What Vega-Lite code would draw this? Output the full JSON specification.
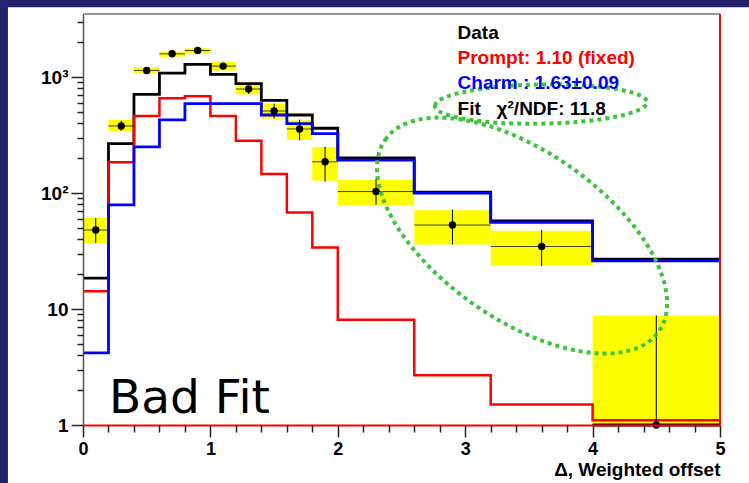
{
  "$schema": "https://vega.github.io/schema/vega-lite/v6.json",
  "width": 637,
  "height": 411,
  "autosize": {"type": "none"},
  "padding": {"left": 83, "top": 14, "right": 29, "bottom": 58},
  "background": "#23226b",
  "config": {
    "view": {"stroke": null},
    "font": "Liberation Sans"
  },
  "datasets": {
    "hist": [
      {"series": "Fit", "x": 0.0, "y": 18.5}, {"series": "Fit", "x": 0.2, "y": 267}, {"series": "Fit", "x": 0.4, "y": 710},
      {"series": "Fit", "x": 0.6, "y": 1082}, {"series": "Fit", "x": 0.8, "y": 1285}, {"series": "Fit", "x": 1.0, "y": 1054},
      {"series": "Fit", "x": 1.2, "y": 877}, {"series": "Fit", "x": 1.4, "y": 630}, {"series": "Fit", "x": 1.6, "y": 471},
      {"series": "Fit", "x": 1.8, "y": 362}, {"series": "Fit", "x": 2.0, "y": 201}, {"series": "Fit", "x": 2.6, "y": 102},
      {"series": "Fit", "x": 3.2, "y": 57.5}, {"series": "Fit", "x": 4.0, "y": 26.9}, {"series": "Fit", "x": 5.0, "y": 26.9},
      {"series": "Prompt", "x": 0.0, "y": 14.2}, {"series": "Prompt", "x": 0.2, "y": 184}, {"series": "Prompt", "x": 0.4, "y": 462},
      {"series": "Prompt", "x": 0.6, "y": 656}, {"series": "Prompt", "x": 0.8, "y": 682}, {"series": "Prompt", "x": 1.0, "y": 462},
      {"series": "Prompt", "x": 1.2, "y": 282}, {"series": "Prompt", "x": 1.4, "y": 146}, {"series": "Prompt", "x": 1.6, "y": 68},
      {"series": "Prompt", "x": 1.8, "y": 34}, {"series": "Prompt", "x": 2.0, "y": 8.1}, {"series": "Prompt", "x": 2.6, "y": 2.69},
      {"series": "Prompt", "x": 3.2, "y": 1.5}, {"series": "Prompt", "x": 4.0, "y": 1.1}, {"series": "Prompt", "x": 5.0, "y": 1.1},
      {"series": "Charm", "x": 0.0, "y": 4.19}, {"series": "Charm", "x": 0.2, "y": 79}, {"series": "Charm", "x": 0.4, "y": 250},
      {"series": "Charm", "x": 0.6, "y": 427}, {"series": "Charm", "x": 0.8, "y": 590}, {"series": "Charm", "x": 1.0, "y": 590},
      {"series": "Charm", "x": 1.2, "y": 590}, {"series": "Charm", "x": 1.4, "y": 471}, {"series": "Charm", "x": 1.6, "y": 397},
      {"series": "Charm", "x": 1.8, "y": 326}, {"series": "Charm", "x": 2.0, "y": 192}, {"series": "Charm", "x": 2.6, "y": 100},
      {"series": "Charm", "x": 3.2, "y": 56}, {"series": "Charm", "x": 4.0, "y": 26}, {"series": "Charm", "x": 5.0, "y": 26}
    ],
    "points": [
      {"x": 0.1, "xlo": 0.0, "xhi": 0.2, "y": 48, "sysLo": 37, "sysHi": 61, "errLo": 37, "errHi": 61},
      {"x": 0.3, "xlo": 0.2, "xhi": 0.4, "y": 379, "sysLo": 343, "sysHi": 427, "errLo": 345, "errHi": 420},
      {"x": 0.5, "xlo": 0.4, "xhi": 0.6, "y": 1141, "sysLo": 1069, "sysHi": 1219, "errLo": 1090, "errHi": 1195},
      {"x": 0.7, "xlo": 0.6, "xhi": 0.8, "y": 1588, "sysLo": 1500, "sysHi": 1660, "errLo": 1520, "errHi": 1650},
      {"x": 0.9, "xlo": 0.8, "xhi": 1.0, "y": 1695, "sysLo": 1600, "sysHi": 1770, "errLo": 1620, "errHi": 1760},
      {"x": 1.1, "xlo": 1.0, "xhi": 1.2, "y": 1244, "sysLo": 1141, "sysHi": 1355, "errLo": 1160, "errHi": 1330},
      {"x": 1.3, "xlo": 1.2, "xhi": 1.4, "y": 789, "sysLo": 710, "sysHi": 865, "errLo": 715, "errHi": 860},
      {"x": 1.5, "xlo": 1.4, "xhi": 1.6, "y": 510, "sysLo": 438, "sysHi": 594, "errLo": 440, "errHi": 590},
      {"x": 1.7, "xlo": 1.6, "xhi": 1.8, "y": 357, "sysLo": 287, "sysHi": 424, "errLo": 285, "errHi": 430},
      {"x": 1.9, "xlo": 1.8, "xhi": 2.0, "y": 186, "sysLo": 128, "sysHi": 250, "errLo": 125, "errHi": 250},
      {"x": 2.3, "xlo": 2.0, "xhi": 2.6, "y": 103, "sysLo": 79, "sysHi": 130, "errLo": 79, "errHi": 132},
      {"x": 2.9, "xlo": 2.6, "xhi": 3.2, "y": 53, "sysLo": 36, "sysHi": 71, "errLo": 36, "errHi": 72},
      {"x": 3.6, "xlo": 3.2, "xhi": 4.0, "y": 34.6, "sysLo": 23.7, "sysHi": 47.4, "errLo": 23.5, "errHi": 48},
      {"x": 4.5, "xlo": 4.0, "xhi": 5.0, "y": 1, "sysLo": 1, "sysHi": 8.8, "errLo": 1, "errHi": 8.8}
    ]
  },
  "resolve": {"axis": {"x": "independent", "y": "independent"}},
  "layer": [
    {
      "layer": [
        {
          "data": {"values": [{}]},
          "mark": {"type": "rect", "fill": "#ffffff", "clip": false},
          "encoding": {
            "x": {"datum": -0.589, "type": "quantitative", "scale": {"domain": [0, 5], "nice": false, "zero": false},
              "axis": {
                "orient": "bottom",
                "values": [0, 1, 2, 3, 4, 5],
                "format": "d",
                "labelFlush": false,
                "labelOverlap": false,
                "labelFont": "Liberation Sans",
                "labelFontWeight": "bold",
                "labelFontSize": 18,
                "labelColor": "#000000",
                "labelPadding": 3,
                "ticks": true,
                "tickSize": 12,
                "tickColor": "#222222",
                "tickWidth": 1.5,
                "domainColor": "#ff0000",
                "domainWidth": 2,
                "grid": false,
                "zindex": 1,
                "title": "Δ, Weighted offset",
                "titleFont": "Liberation Sans",
                "titleFontWeight": "bold",
                "titleFontSize": 19,
                "titleColor": "#000000",
                "titleAnchor": "end",
                "titleAlign": "right",
                "titlePadding": 2
              }},
            "x2": {"datum": 5.25},
            "y": {"datum": 4010, "type": "quantitative", "scale": {"type": "log", "domain": [1, 3500], "nice": false},
              "axis": {
                "orient": "left",
                "values": [1, 10, 100, 1000],
                "labelExpr": "datum.value == 1000 ? '10³' : datum.value == 100 ? '10²' : datum.value == 10 ? '10' : '1'",
                "labelOverlap": false,
                "labelFlush": false,
                "labelFont": "Liberation Sans",
                "labelFontWeight": "bold",
                "labelFontSize": 19,
                "labelColor": "#000000",
                "labelPadding": 3,
                "ticks": true,
                "tickSize": 12,
                "tickColor": "#222222",
                "tickWidth": 1.5,
                "domainColor": "#555555",
                "domainWidth": 1.5,
                "grid": false,
                "zindex": 1,
                "title": null
              }},
            "y2": {"datum": 0.3}
          }
        },
        {
          "data": {"values": [{}]},
          "mark": {"type": "rule", "color": "#777777", "strokeWidth": 1.5, "clip": false},
          "encoding": {"x": {"datum": 0}, "x2": {"datum": 5}, "y": {"datum": 3500}}
        },
        {
          "data": {"name": "points"},
          "mark": {"type": "rect", "fill": "#ffff00", "clip": false},
          "encoding": {"x": {"field": "xlo", "type": "quantitative"}, "x2": {"field": "xhi"}, "y": {"field": "sysLo", "type": "quantitative"}, "y2": {"field": "sysHi"}}
        },
        {
          "data": {"name": "hist"},
          "transform": [{"filter": "datum.series === 'Fit'"}],
          "mark": {"type": "line", "interpolate": "step-after", "color": "#000000", "strokeWidth": 2.8, "clip": false},
          "encoding": {"x": {"field": "x", "type": "quantitative"}, "y": {"field": "y", "type": "quantitative"}}
        },
        {
          "data": {"name": "hist"},
          "transform": [{"filter": "datum.series === 'Prompt'"}],
          "mark": {"type": "line", "interpolate": "step-after", "color": "#ff0000", "strokeWidth": 2.5, "clip": false},
          "encoding": {"x": {"field": "x", "type": "quantitative"}, "y": {"field": "y", "type": "quantitative"}}
        },
        {
          "data": {"name": "hist"},
          "transform": [{"filter": "datum.series === 'Charm'"}],
          "mark": {"type": "line", "interpolate": "step-after", "color": "#0000ff", "strokeWidth": 2.8, "clip": false},
          "encoding": {"x": {"field": "x", "type": "quantitative"}, "y": {"field": "y", "type": "quantitative"}}
        },
        {
          "data": {"name": "points"},
          "mark": {"type": "rule", "color": "#000000", "strokeWidth": 1, "opacity": 0.75, "clip": false},
          "encoding": {"x": {"field": "xlo", "type": "quantitative"}, "x2": {"field": "xhi"}, "y": {"field": "y", "type": "quantitative"}}
        },
        {
          "data": {"name": "points"},
          "mark": {"type": "rule", "color": "#000000", "strokeWidth": 1, "clip": false},
          "encoding": {"x": {"field": "x", "type": "quantitative"}, "y": {"field": "errLo", "type": "quantitative"}, "y2": {"field": "errHi"}}
        },
        {
          "data": {"name": "points"},
          "mark": {"type": "point", "filled": true, "shape": "circle", "color": "#000000", "size": 55, "opacity": 1, "clip": false},
          "encoding": {"x": {"field": "x", "type": "quantitative"}, "y": {"field": "y", "type": "quantitative"}}
        },
        {
          "data": {"values": [{}]},
          "mark": {"type": "rule", "color": "#ff0000", "strokeWidth": 2, "clip": false},
          "encoding": {"x": {"datum": 5}, "y": {"datum": 1}, "y2": {"datum": 3500}}
        },
        {
          "data": {"values": [{}]},
          "mark": {"type": "rule", "color": "#000000", "strokeWidth": 3, "clip": false},
          "encoding": {"x": {"datum": 4}, "x2": {"datum": 5}, "y": {"datum": 1}}
        },
        {
          "data": {"values": [{}]},
          "mark": {"type": "point", "shape": "M -1 0 A 1 0.503 0 1 1 1 0 A 1 0.503 0 1 1 -1 0 Z", "filled": false, "stroke": "#3cc43c", "strokeWidth": 4, "strokeDash": [4, 4], "size": 111556, "angle": 35, "opacity": 1, "clip": false},
          "encoding": {"x": {"datum": 3.446}, "y": {"datum": 43}}
        },
        {
          "data": {"values": [{}]},
          "mark": {"type": "point", "shape": "M -1 0 A 1 0.185 0 1 1 1 0 A 1 0.185 0 1 1 -1 0 Z", "filled": false, "stroke": "#3cc43c", "strokeWidth": 4, "strokeDash": [4, 4], "size": 44944, "angle": -1, "opacity": 1, "clip": false},
          "encoding": {"x": {"datum": 3.595}, "y": {"datum": 585}}
        },
        {
          "data": {"values": [{}]},
          "mark": {"type": "text", "text": "Data", "align": "left", "baseline": "alphabetic", "font": "Liberation Sans", "fontWeight": "bold", "fontSize": 19, "color": "#000000", "clip": false},
          "encoding": {"x": {"datum": 2.94}, "y": {"datum": 2113}}
        },
        {
          "data": {"values": [{}]},
          "mark": {"type": "text", "text": "Prompt: 1.10 (fixed)", "align": "left", "baseline": "alphabetic", "font": "Liberation Sans", "fontWeight": "bold", "fontSize": 19, "color": "#ff0000", "clip": false},
          "encoding": {"x": {"datum": 2.94}, "y": {"datum": 1286}}
        },
        {
          "data": {"values": [{}]},
          "mark": {"type": "text", "text": "Charm : 1.63±0.09", "align": "left", "baseline": "alphabetic", "font": "Liberation Sans", "fontWeight": "bold", "fontSize": 19, "color": "#0000ff", "clip": false},
          "encoding": {"x": {"datum": 2.94}, "y": {"datum": 784}}
        },
        {
          "data": {"values": [{}]},
          "mark": {"type": "text", "text": "Fit\u00a0\u00a0\u00a0χ²/NDF: 11.8", "align": "left", "baseline": "alphabetic", "font": "Liberation Sans", "fontWeight": "bold", "fontSize": 19, "color": "#000000", "clip": false},
          "encoding": {"x": {"datum": 2.94}, "y": {"datum": 470}}
        },
        {
          "data": {"values": [{}]},
          "mark": {"type": "text", "text": "Bad Fit", "align": "left", "baseline": "alphabetic", "font": "DejaVu Sans", "fontSize": 47, "color": "#000000", "clip": false},
          "encoding": {"x": {"datum": 0.204}, "y": {"datum": 1.27}}
        }
      ]
    },
    {
      "data": {"values": [{}]},
      "mark": {"type": "rule", "opacity": 0, "clip": false},
      "encoding": {
        "x": {"datum": 0, "type": "quantitative",
          "axis": {
            "orient": "bottom",
            "values": [0.2, 0.4, 0.6, 0.8, 1.2, 1.4, 1.6, 1.8, 2.2, 2.4, 2.6, 2.8, 3.2, 3.4, 3.6, 3.8, 4.2, 4.4, 4.6, 4.8],
            "labels": false,
            "domain": false,
            "grid": false,
            "ticks": true,
            "tickSize": 7,
            "tickColor": "#222222",
            "tickWidth": 1.5,
            "zindex": 1,
            "title": null
          }},
        "y": {"datum": 1, "type": "quantitative",
          "axis": {
            "orient": "left",
            "values": [2, 3, 4, 5, 6, 7, 8, 9, 20, 30, 40, 50, 60, 70, 80, 90, 200, 300, 400, 500, 600, 700, 800, 900, 2000, 3000],
            "labels": false,
            "domain": false,
            "grid": false,
            "ticks": true,
            "tickSize": 6,
            "tickColor": "#222222",
            "tickWidth": 1.5,
            "zindex": 1,
            "title": null
          }}
      }
    }
  ]
}
